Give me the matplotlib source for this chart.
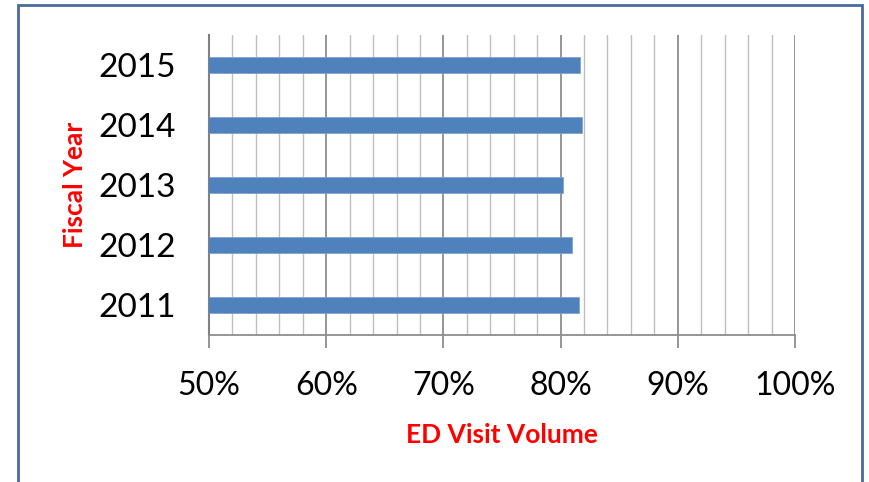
import matplotlib.pyplot as plt
from matplotlib.patches import Rectangle
from matplotlib.ticker import MultipleLocator, FuncFormatter

plt.rcParams['font.family'] = ['Lato', 'DejaVu Sans']

# Data -----------------------------------------------------------------
years = ['2011', '2012', '2013', '2014', '2015']
ed_share = [81.6, 81.0, 80.2, 81.8, 81.7]   # ED visit volume, percent

fig = plt.figure(figsize=(8.69, 4.82), dpi=100)
ax = fig.add_axes([0.2405, 0.305, 0.6743, 0.6224])

ax.barh(years, ed_share, height=0.26, left=0, color='#4F81BD',
        edgecolor='#7FA3D0', linewidth=0.6, zorder=3)

ax.set_xlim(50, 100)
ax.set_ylim(-0.5, 4.5)
ax.xaxis.set_major_locator(MultipleLocator(10))
ax.xaxis.set_minor_locator(MultipleLocator(2))
ax.xaxis.set_major_formatter(FuncFormatter(lambda v, p: '{:.0f}%'.format(v)))
ax.grid(axis='x', which='major', color='#8C8C8C', linewidth=1.3, zorder=0)
ax.grid(axis='x', which='minor', color='#BEBEBE', linewidth=1.0, zorder=0)

for s in ['top', 'right']:
    ax.spines[s].set_visible(False)
ax.spines['left'].set_color('#808080')
ax.spines['left'].set_linewidth(1.5)
ax.spines['bottom'].set_color('#8C8C8C')
ax.spines['bottom'].set_linewidth(1.3)

ax.tick_params(axis='x', which='major', length=9, width=1.3, color='#8C8C8C',
               labelsize=23, pad=17)
ax.tick_params(axis='x', which='minor', length=0)
ax.tick_params(axis='y', length=0, labelsize=24, pad=24)

ax.set_xlabel('ED Visit Volume', color='red', fontweight='bold',
              fontsize=19, labelpad=16)
ax.set_ylabel('Fiscal Year', color='red', fontweight='bold',
              fontsize=19, labelpad=8)

# chart border
fig.patches.append(Rectangle((18 / 869, -0.05), 844 / 869, 1 - 5 / 482 + 0.05,
                             transform=fig.transFigure, fill=False,
                             edgecolor='#4A6A9C', linewidth=2))

fig.savefig('out.png', dpi=100)
